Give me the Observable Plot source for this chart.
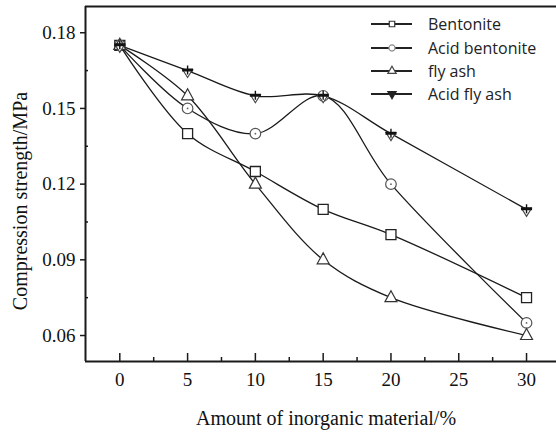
<!DOCTYPE html>
<html><head><meta charset="utf-8">
<script src="https://cdn.jsdelivr.net/npm/d3@7"></script>
<script src="https://cdn.jsdelivr.net/npm/@observablehq/plot@0.6"></script>
<style>
body{margin:0;background:#fff;}
#wrap{position:relative;width:556px;height:433px;overflow:hidden;}
#legend{position:absolute;left:0;top:0;}
</style></head><body><div id="wrap"></div>
<script>
const xValues = [0, 5, 10, 15, 20, 30];
const seriesNames = ["Bentonite", "Acid bentonite", "fly ash", "Acid fly ash"];
const bentonite = [0.175, 0.140, 0.125, 0.110, 0.100, 0.075];
const acidBentonite = [0.175, 0.150, 0.140, 0.155, 0.120, 0.065];
const flyAsh = [0.175, 0.155, 0.120, 0.090, 0.075, 0.060];
const acidFlyAsh = [0.175, 0.165, 0.155, 0.155, 0.140, 0.110];
const xTicks = [0, 5, 10, 15, 20, 25, 30];
const xMinorTicks = [2.5, 7.5, 12.5, 17.5, 22.5, 27.5];
const yTicks = [0.06, 0.09, 0.12, 0.15, 0.18];
const yMinorTicks = [0.075, 0.105, 0.135, 0.165];
const xTitle = "Amount of inorganic material/%";
const yTitle = "Compression strength/MPa";

const W = 556, H = 433, mL = 85, mR = 0, mT = 6, mB = 72;
const innerW = W - mL - mR, innerH = H - mT - mB;
const xDomain = [-2.53, 32.21];
const yDomain = [0.0497, 0.1904];

// custom symbols
const squareSym = {draw(c){ c.rect(-5, -5, 10, 10); }};
const circleSym = {draw(c){ c.moveTo(5.3, 0); c.arc(0, 0, 5.3, 0, 2 * Math.PI); }};
const dotSym = {draw(c){ c.moveTo(0.9, 0); c.arc(0, 0, 0.9, 0, 2 * Math.PI); }};
const triUpSym = {draw(c){ c.moveTo(0, -7); c.lineTo(6, 4); c.lineTo(-6, 4); c.closePath(); }};
const triDownSym = {draw(c){ c.moveTo(-5, -1); c.lineTo(5, -1); c.lineTo(0, 7); c.closePath(); }};
const barSym = {draw(c){ c.rect(-5.5, -2, 11, 3); c.rect(-0.7, -5, 1.4, 9); }};

const seriesValues = [bentonite, acidBentonite, flyAsh, acidFlyAsh];
const rows = seriesNames.flatMap((name, s) => xValues.map((x, i) => ({name, x, y: seriesValues[s][i]})));
const bySeries = name => rows.filter(d => d.name === name);

const font = "Liberation Serif, Times New Roman, serif";
const ink = "#1a1a1a";

const marks = [
  // frame lines
  Plot.ruleY([yDomain[1]], {stroke: ink, strokeWidth: 2}),
  Plot.ruleX([xDomain[0]], {stroke: ink, strokeWidth: 2}),
  Plot.ruleY([yDomain[0]], {stroke: ink, strokeWidth: 2}),
  // ticks
  Plot.tickX(xTicks, {x: d => d, insetTop: innerH - 8, stroke: ink, strokeWidth: 1.5}),
  Plot.tickX(xMinorTicks, {x: d => d, insetTop: innerH - 4, stroke: ink, strokeWidth: 1.5}),
  Plot.tickY(yTicks, {y: d => d, insetLeft: -5, insetRight: innerW, stroke: ink, strokeWidth: 1.5}),
  Plot.tickY(yMinorTicks, {y: d => d, insetLeft: 0, insetRight: innerW - 3, stroke: ink, strokeWidth: 1.5}),
  // tick labels
  Plot.text(xTicks, {x: d => d, text: d => String(d), frameAnchor: "bottom", lineAnchor: "middle", dy: 18, fontSize: 19, fontFamily: font, fill: "#111"}),
  Plot.text(yTicks, {y: d => d, text: d => d.toFixed(2), frameAnchor: "left", textAnchor: "end", dx: -10, fontSize: 19, fontFamily: font, fill: "#111"}),
  // titles
  Plot.text([xTitle], {frameAnchor: "bottom", textAnchor: "middle", lineAnchor: "middle", dy: 57, dx: 5, fontSize: 20, fontFamily: font, fill: "#111"}),
  Plot.text([yTitle], {frameAnchor: "left", textAnchor: "middle", lineAnchor: "middle", rotate: -90, dx: -65, dy: 17, fontSize: 20, fontFamily: font, fill: "#111"}),
  // curves
  ...seriesNames.map(name => Plot.line(bySeries(name), {x: "x", y: "y", curve: "catmull-rom", stroke: ink, strokeWidth: 1.3})),
  // markers
  Plot.dot(bySeries(seriesNames[0]), {x: "x", y: "y", symbol: squareSym, stroke: "#222", strokeWidth: 1.3, fill: "white"}),
  Plot.dot(bySeries(seriesNames[1]), {x: "x", y: "y", symbol: circleSym, stroke: "#555", strokeWidth: 1.2, fill: "white"}),
  Plot.dot(bySeries(seriesNames[1]), {x: "x", y: "y", symbol: dotSym, fill: "#666"}),
  Plot.dot(bySeries(seriesNames[2]), {x: "x", y: "y", symbol: triUpSym, stroke: "#333", strokeWidth: 1.2, fill: "white"}),
  Plot.dot(bySeries(seriesNames[3]), {x: "x", y: "y", symbol: triDownSym, stroke: "#444", strokeWidth: 1.1, fill: "white"}),
  Plot.dot(bySeries(seriesNames[3]), {x: "x", y: "y", symbol: barSym, fill: "#111"})
];

const chart = Plot.plot({
  width: W, height: H,
  marginLeft: mL, marginRight: mR, marginTop: mT, marginBottom: mB,
  x: {domain: xDomain, axis: null},
  y: {domain: yDomain, axis: null},
  style: {background: "white", overflow: "visible"},
  marks
});
const wrap = document.getElementById("wrap");
wrap.appendChild(chart);

// legend overlay
const legendSyms = [
  {sym: d3.symbolSquare, size: 30, fill: "white", stroke: "#333"},
  {sym: d3.symbolCircle, size: 30, fill: "white", stroke: "#888"},
  {sym: d3.symbolTriangle, size: 30, fill: "white", stroke: "#444"},
  {sym: d3.symbolTriangle, size: 30, fill: "#222", stroke: "#222"}
];
const legendY = [24, 48, 71, 94];
const svg = d3.select(wrap).append("svg").attr("id", "legend").attr("width", W).attr("height", H);
seriesNames.forEach((name, i) => {
  const g = svg.append("g").attr("transform", `translate(0,${legendY[i]})`);
  g.append("line").attr("x1", 371).attr("x2", 412).attr("y1", 0).attr("y2", 0).attr("stroke", "#222").attr("stroke-width", 2);
  g.append("path").attr("d", d3.symbol(legendSyms[i].sym, legendSyms[i].size)()).attr("transform", `translate(392,0)${i === 3 ? " rotate(180)" : ""}`)
    .attr("fill", legendSyms[i].fill).attr("stroke", legendSyms[i].stroke).attr("stroke-width", 1.2);
  g.append("text").attr("x", 428).attr("y", 0).attr("dy", "0.35em").attr("font-family", "Open Sans, sans-serif").attr("font-size", 16).attr("fill", "#222").text(name);
});
</script>
</body></html>
